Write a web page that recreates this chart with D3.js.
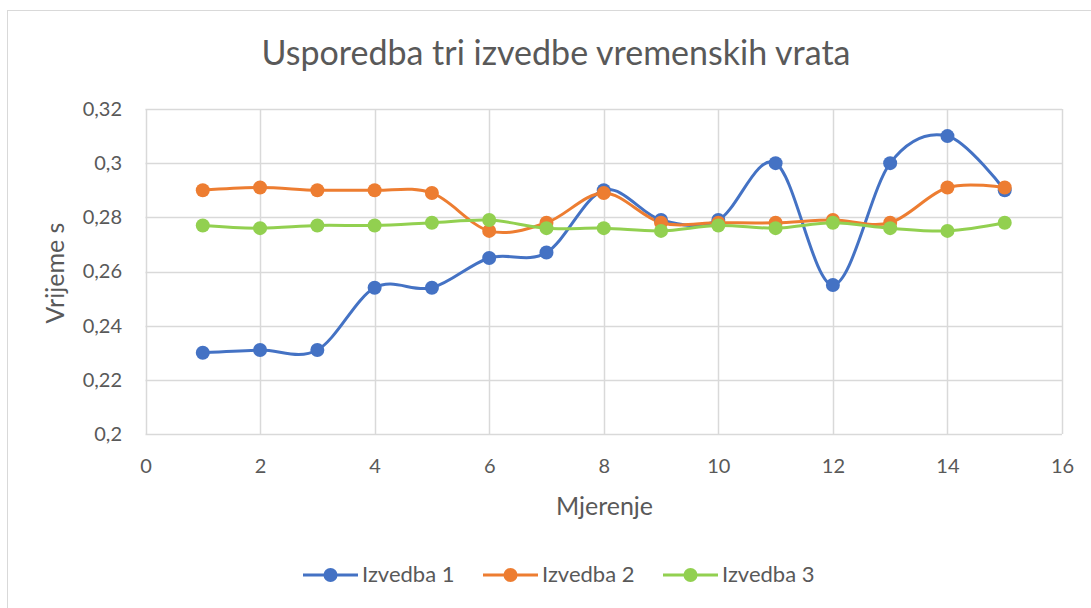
<!DOCTYPE html>
<html>
<head>
<meta charset="utf-8">
<script src="https://cdn.jsdelivr.net/npm/d3@7"></script>
<style>
    body { margin: 0; background: #fff; }
    text { font-family: Lato, "Open Sans", sans-serif; fill: #595959; }
</style>
</head>
<body>
<svg width="1091" height="608"></svg>
<script>
// podaci s grafa
const mjerenja = [1, 2, 3, 4, 5, 6, 7, 8, 9, 10, 11, 12, 13, 14, 15];
const izvedba1 = [0.230, 0.231, 0.231, 0.254, 0.254, 0.265, 0.267, 0.290, 0.279, 0.279, 0.300, 0.255, 0.300, 0.310, 0.290];
const izvedba2 = [0.290, 0.291, 0.290, 0.290, 0.289, 0.275, 0.278, 0.289, 0.278, 0.278, 0.278, 0.279, 0.278, 0.291, 0.291];
const izvedba3 = [0.277, 0.276, 0.277, 0.277, 0.278, 0.279, 0.276, 0.276, 0.275, 0.277, 0.276, 0.278, 0.276, 0.275, 0.278];
const nazivi = ['Izvedba 1', 'Izvedba 2', 'Izvedba 3'];
const boje = ['#4472C4', '#ED7D31', '#92D050'];
const xTicks = [0, 2, 4, 6, 8, 10, 12, 14, 16];
const yTicks = [0.2, 0.22, 0.24, 0.26, 0.28, 0.3, 0.32];

const serije = [izvedba1, izvedba2, izvedba3];

const svg = d3.select('svg');

// okvir grafikona
svg.append('rect')
    .attr('x', 7.5).attr('y', 10.5)
    .attr('width', 1100).attr('height', 620)
    .attr('fill', 'none')
    .attr('stroke', '#d9d9d9');

const plotL = 145.5, plotR = 1062, plotT = 109, plotB = 434;

const scaleX = d3.scaleLinear().domain([0, 16]).range([plotL, plotR]);
const scaleY = d3.scaleLinear().domain([0.2, 0.32]).range([plotB, plotT]);

// mreza
svg.append('g').selectAll('line')
    .data(yTicks)
    .enter().append('line')
    .attr('x1', plotL).attr('x2', plotR)
    .attr('y1', d => Math.round(scaleY(d)) + 0.5)
    .attr('y2', d => Math.round(scaleY(d)) + 0.5)
    .attr('stroke', '#d9d9d9').attr('stroke-width', 1.5);

svg.append('g').selectAll('line')
    .data(xTicks)
    .enter().append('line')
    .attr('y1', plotT).attr('y2', plotB)
    .attr('x1', d => Math.round(scaleX(d)) + 0.5)
    .attr('x2', d => Math.round(scaleX(d)) + 0.5)
    .attr('stroke', '#d9d9d9').attr('stroke-width', 1.5);

// osi - samo oznake
const axisX = d3.axisBottom(scaleX).tickValues(xTicks).tickSize(0);
const axisY = d3.axisLeft(scaleY).tickValues(yTicks).tickSize(0).tickPadding(23.5)
    .tickFormat(d => String(+d.toFixed(2)).replace('.', ','));

svg.append('g')
    .attr('transform', `translate(0, ${plotB})`)
    .call(axisX)
    .call(g => g.select('.domain').remove())
    .selectAll('text')
    .attr('y', 39).attr('dy', 0)
    .style('font-size', '20px').attr('fill', '#595959');

svg.append('g')
    .attr('transform', `translate(${plotL}, 0)`)
    .call(axisY)
    .call(g => g.select('.domain').remove())
    .selectAll('text')
    .style('font-size', '20px').attr('fill', '#595959');

// linije
const line = d3.line()
    .x((d, i) => scaleX(mjerenja[i]))
    .y(d => scaleY(d))
    .curve(d3.curveCatmullRom.alpha(0));

serije.forEach((s, k) => {
    svg.append('path')
        .datum(s)
        .attr('d', line)
        .attr('fill', 'none')
        .attr('stroke', boje[k])
        .attr('stroke-width', 3);
});

serije.forEach((s, k) => {
    svg.append('g').selectAll('circle')
        .data(s)
        .enter().append('circle')
        .attr('cx', (d, i) => scaleX(mjerenja[i]))
        .attr('cy', d => scaleY(d))
        .attr('r', 7)
        .attr('fill', boje[k]);
});

// naslovi
svg.append('text')
    .attr('x', 556).attr('y', 65)
    .attr('text-anchor', 'middle')
    .style('font-size', '34px')
    .text('Usporedba tri izvedbe vremenskih vrata');

svg.append('text')
    .attr('transform', 'translate(64, 273) rotate(-90)')
    .attr('text-anchor', 'middle')
    .style('font-size', '25px')
    .text('Vrijeme s');

svg.append('text')
    .attr('x', 604.5).attr('y', 515)
    .attr('text-anchor', 'middle')
    .style('font-size', '25px')
    .text('Mjerenje');

// legenda
const legendX = [303, 483, 663];
const legenda = svg.append('g');
nazivi.forEach((n, k) => {
    const g = legenda.append('g').attr('transform', `translate(${legendX[k]}, 575)`);
    g.append('line')
        .attr('x1', 0).attr('x2', 55)
        .attr('stroke', boje[k]).attr('stroke-width', 3);
    g.append('circle').attr('cx', 27.5).attr('r', 7).attr('fill', boje[k]);
    g.append('text')
        .attr('x', 59).attr('y', 7)
        .style('font-size', '22px')
        .text(n);
});
</script>
</body>
</html>
